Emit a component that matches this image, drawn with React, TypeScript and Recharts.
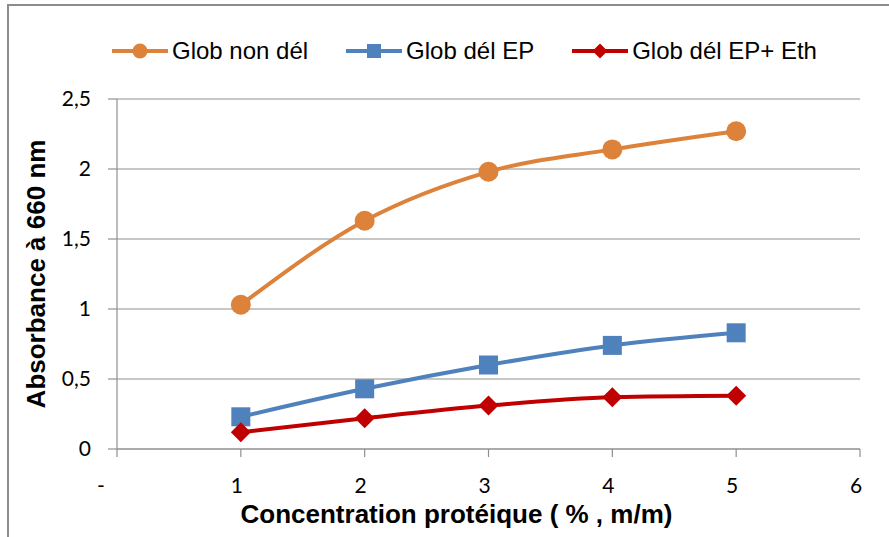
import React from "react";
import { LineChart, Line, XAxis, YAxis, CartesianGrid, Legend } from "recharts";

const concentrations = [1, 2, 3, 4, 5];
const globNonDel = [1.03, 1.63, 1.98, 2.14, 2.27];
const globDelEP = [0.23, 0.43, 0.6, 0.74, 0.83];
const globDelEPEth = [0.12, 0.22, 0.31, 0.37, 0.38];
const xTicks = [0, 1, 2, 3, 4, 5, 6];
const yTicks = [0, 0.5, 1, 1.5, 2, 2.5];

const seriesNames = ["Glob non dél", "Glob dél EP", "Glob dél EP+ Eth"];
const markerKinds: Record<string, string> = { nonDel: "circle", delEP: "square", delEPEth: "diamond" };
const legendOrder = ["nonDel", "delEP", "delEPEth"];

const ORANGE = "#DD823B";
const BLUE = "#4F81BD";
const RED = "#C00000";
const GRID = "#8f8f8f";

const data = concentrations.map((c, i) => ({
  c,
  nonDel: globNonDel[i],
  delEP: globDelEP[i],
  delEPEth: globDelEPEth[i],
}));

function Square(props: any) {
  const { cx, cy, fill, size } = props;
  if (cx == null || cy == null) return null;
  const s = size ?? 19;
  return <rect x={cx - s / 2} y={cy - s / 2} width={s} height={s} fill={fill} />;
}

function Diamond(props: any) {
  const { cx, cy, fill, size } = props;
  if (cx == null || cy == null) return null;
  const h = (size ?? 20) / 2;
  return <polygon points={`${cx},${cy - h} ${cx + h},${cy} ${cx},${cy + h} ${cx - h},${cy}`} fill={fill} />;
}

function LegendMarker({ kind, color }: { kind: string; color: string }) {
  return (
    <svg width={56} height={20} style={{ display: "block" }}>
      <line x1={0} y1={10} x2={56} y2={10} stroke={color} strokeWidth={4} />
      {kind === "circle" && <circle cx={28} cy={10} r={7.5} fill={color} />}
      {kind === "square" && <Square cx={28} cy={10} size={14} fill={color} />}
      {kind === "diamond" && <Diamond cx={28} cy={10} size={15} fill={color} />}
    </svg>
  );
}

function renderLegend(props: any) {
  const items = [...((props.payload || []) as any[])].sort(
    (a, b) => legendOrder.indexOf(a.dataKey) - legendOrder.indexOf(b.dataKey)
  );
  return (
    <div style={{ display: "flex", alignItems: "center", gap: 38 }}>
      {items.map((it, i) => (
        <div key={i} style={{ display: "flex", alignItems: "center" }}>
          <LegendMarker kind={markerKinds[it.dataKey]} color={it.color} />
          <span
            style={{
              marginLeft: 4,
              fontFamily: "'Liberation Sans', Arial, sans-serif",
              fontSize: 24,
              color: "#000",
              whiteSpace: "nowrap",
              lineHeight: "26px",
            }}
          >
            {it.value}
          </span>
        </div>
      ))}
    </div>
  );
}

function XTick(props: any) {
  const { x, y, payload } = props;
  const v = payload.value;
  return (
    <text
      x={x + (v === 0 ? -16 : -4)}
      y={y}
      dy="0.71em"
      textAnchor="middle"
      fill="#000"
      fontFamily="Lato, 'Open Sans', sans-serif"
      fontSize={21}
    >
      {v === 0 ? "-" : String(v)}
    </text>
  );
}

export default function App() {
  return (
    <div style={{ position: "relative", width: 889, height: 537, background: "#fff", overflow: "hidden" }}>
      <style>{`body{margin:0;}`}</style>
      <div
        style={{
          position: "absolute",
          left: 7,
          top: 4,
          width: 900,
          height: 560,
          borderTop: "2px solid #8c8c8c",
          borderLeft: "2px solid #8c8c8c",
        }}
      />
      <div style={{ position: "absolute", left: 0, top: 0 }}>
        <LineChart width={889} height={537} data={data} margin={{ top: 99, right: 29, left: 0, bottom: 0 }}>
          <CartesianGrid vertical={false} stroke={GRID} strokeWidth={1.2} />
          <XAxis
            dataKey="c"
            type="number"
            domain={[0, 6]}
            ticks={xTicks}
            interval={0}
            height={88}
            axisLine={{ stroke: GRID, strokeWidth: 1.2 }}
            tickLine={{ stroke: GRID, strokeWidth: 1.2 }}
            tickSize={8}
            tickMargin={21}
            tick={<XTick />}
            label={{
              value: "Concentration protéique ( % , m/m)",
              position: "insideBottom",
              offset: 14,
              dx: -32,
              style: {
                fontFamily: "'Liberation Sans', Arial, sans-serif",
                fontWeight: "bold",
                fontSize: 26,
                fill: "#000",
              },
            }}
          />
          <YAxis
            type="number"
            domain={[0, 2.5]}
            ticks={yTicks}
            interval={0}
            width={117}
            axisLine={{ stroke: GRID, strokeWidth: 1.2 }}
            tickLine={{ stroke: GRID, strokeWidth: 1.2 }}
            tickSize={9}
            tickMargin={17}
            tickFormatter={(v: number) => String(v).replace(".", ",")}
            tick={{ fill: "#000", fontFamily: "Lato, 'Open Sans', sans-serif", fontSize: 21 }}
            label={{
              value: "Absorbance à 660 nm",
              position: "insideLeft",
              angle: -90,
              offset: 36,
              style: {
                textAnchor: "middle",
                fontFamily: "'Liberation Sans', Arial, sans-serif",
                fontWeight: "bold",
                fontSize: 26,
                fill: "#000",
              },
            }}
          />
          <Legend
            layout="vertical"
            align="center"
            verticalAlign="middle"
            wrapperStyle={{ top: 38, left: 112, width: "auto" }}
            content={renderLegend}
          />
          <Line
            type="monotone"
            dataKey="nonDel"
            name={seriesNames[0]}
            stroke={ORANGE}
            strokeWidth={4}
            dot={{ r: 10, fill: ORANGE, stroke: "none" }}
            isAnimationActive={false}
          />
          <Line
            type="monotone"
            dataKey="delEP"
            name={seriesNames[1]}
            stroke={BLUE}
            strokeWidth={4}
            dot={(p: any) => <Square key={`s${p.index}`} cx={p.cx} cy={p.cy} fill={BLUE} size={19} />}
            isAnimationActive={false}
          />
          <Line
            type="monotone"
            dataKey="delEPEth"
            name={seriesNames[2]}
            stroke={RED}
            strokeWidth={4}
            dot={(p: any) => <Diamond key={`d${p.index}`} cx={p.cx} cy={p.cy} fill={RED} size={20} />}
            isAnimationActive={false}
          />
        </LineChart>
      </div>
    </div>
  );
}
